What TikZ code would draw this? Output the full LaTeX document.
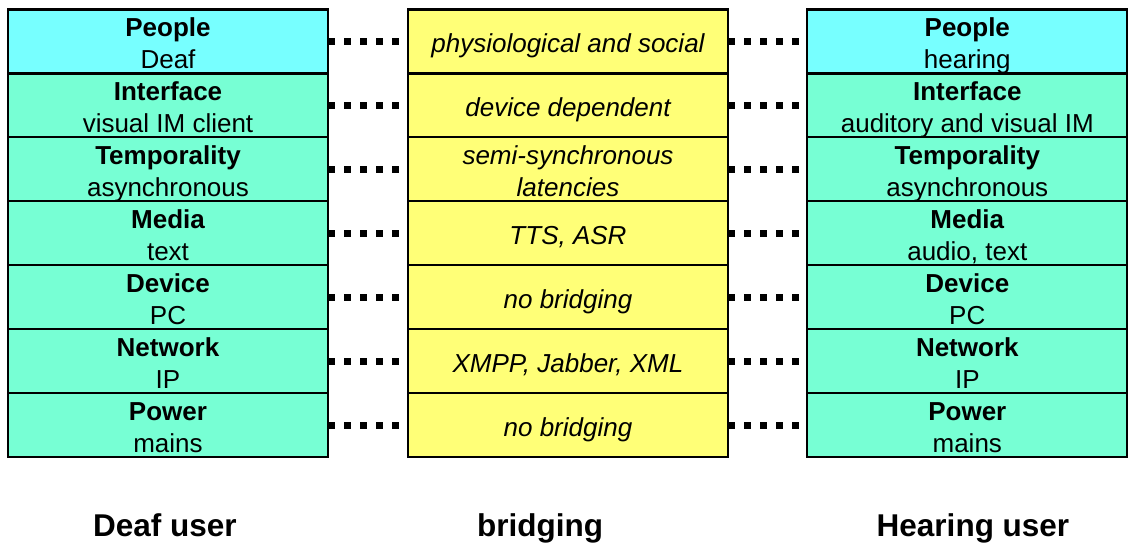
\documentclass[tikz,border=0pt]{standalone}
\usepackage{fontspec}
\setmainfont{Liberation Sans}
\usetikzlibrary{calc}
\definecolor{cyanfill}{RGB}{119,255,255}
\definecolor{aquafill}{RGB}{119,255,212}
\definecolor{yellowfill}{RGB}{255,255,119}
\tikzset{
  cell/.style={draw, line width=2.2pt, minimum width=320pt, minimum height=63.9pt,
    inner sep=0pt, outer sep=0pt},
  people/.style={cell, fill=cyanfill},
  layer/.style={cell, fill=aquafill},
  bridge/.style={cell, fill=yellowfill},
  txt/.style={anchor=base, inner sep=0pt, font=\fontsize{26}{31}\selectfont},
  head/.style={txt, font=\fontsize{26}{31}\selectfont\bfseries},
  btxt/.style={txt, font=\fontsize{26}{31}\selectfont\itshape},
  caption/.style={anchor=base, inner sep=0pt, font=\fontsize{31.5}{36}\selectfont\bfseries},
  dots/.style={line width=7pt, dash pattern=on 7pt off 9pt},
}

\begin{document}
\begin{tikzpicture}[x=1pt, y=-1pt]
\useasboundingbox (0,0) rectangle (1128,542);

%%%%%%%%%%%%%%%%%%%%%%%%%%%%%%%%%%%%%%%%%%%%%%%%%%%%%%%%%%%%%% layers
\foreach \i/\kind/\head/\ltxt/\mtxt/\my/\rtxt in {
  1/people/People/Deaf/physiological and social/11.5/hearing,
  2/layer/Interface/visual IM client/device dependent/11.5/auditory and visual IM,
  3/layer/Temporality/asynchronous/semi-synchronous/-4.5/asynchronous,
  4/layer/Media/text/{TTS, ASR}/11.5/{audio, text},
  5/layer/Device/PC/no bridging/11.5/PC,
  6/layer/Network/IP/{XMPP, Jabber, XML}/11.5/IP,
  7/layer/Power/mains/no bridging/11.5/mains}
{
  \coordinate (c\i) at (0, 9.5+63.93*\i-31.97);
  \node[\kind] (L\i) at ($(c\i)+(168,0)$) {};
  \node[bridge] (M\i) at ($(c\i)+(568,0)$) {};
  \node[\kind] (R\i) at ($(c\i)+(967.3,0)$) {};

  \node[head] (L\i-t) at ($(L\i.center)+(0,-4.5)$) {\head};
  \node[txt] (L\i-s) at ($(L\i.center)+(0,27)$) {\ltxt};
  \node[btxt] (M\i-t) at ($(M\i.center)+(0,\my)$) {\mtxt};
  \node[head] (R\i-t) at ($(R\i.center)+(0,-4.5)$) {\head};
  \node[txt] (R\i-s) at ($(R\i.center)+(0,27)$) {\rtxt};

  \draw[dots] (L\i.east) -- (M\i.west);
  \draw[dots] (M\i.east) -- (R\i.west);
}
\node[btxt] (M3-s) at ($(M3.center)+(0,27)$) {latencies};

%%%%%%%%%%%%%%%%%%%%%%%%%%%%%%%%%%%%%%%%%%%%%%%%%%%%%%%%%%%%%% captions
\node[caption] (deaf) at (165,536) {Deaf user};
\node[caption] (bridging) at (540,536) {bridging};
\node[caption] (hearing) at (973,536) {Hearing user};

\end{tikzpicture}
\end{document}
